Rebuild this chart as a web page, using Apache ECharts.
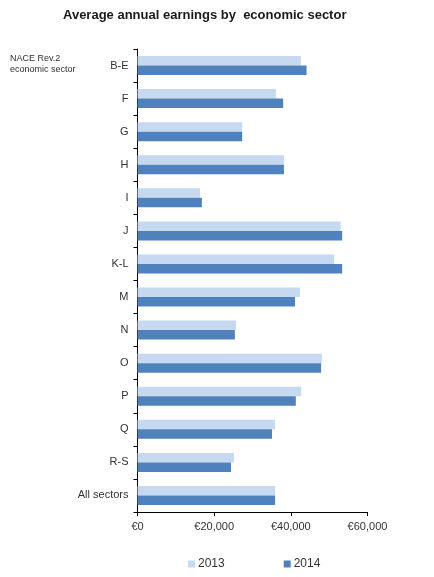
<!DOCTYPE html>
<html>
<head>
<meta charset="utf-8">
<script src="https://cdn.jsdelivr.net/npm/echarts@6/dist/echarts.min.js"></script>
<style>
  html, body { margin: 0; padding: 0; background: #fff; }
  #chart { width: 434px; height: 577px; }
</style>
</head>
<body>
<div id="chart"></div>
<script>
// sectors, top to bottom
const sectors = ['B-E', 'F', 'G', 'H', 'I', 'J', 'K-L', 'M', 'N', 'O', 'P', 'Q', 'R-S', 'All sectors'];
// average annual earnings (EUR)
const earnings2013 = [42600, 36100, 27300, 38200, 16300, 53000, 51300, 42400, 25700, 48100, 42700, 35900, 25200, 35900];
const earnings2014 = [44100, 38000, 27300, 38200, 16800, 53400, 53400, 41100, 25400, 47900, 41300, 35100, 24400, 35900];
const xTicks = [0, 20000, 40000, 60000];

const chart = echarts.init(document.getElementById('chart'));
const font = 'Liberation Sans, Arial, sans-serif';

function euro(v) {
    return '€' + v.toLocaleString('en-US');
}

chart.setOption({
    animation: false,
    textStyle: { fontFamily: font },
    title: [
        {
            text: 'Average annual earnings by  economic sector',
            left: 63,
            top: 9,
            padding: 0,
            textStyle: { fontSize: 13, fontWeight: 'bold', color: '#1a1a1a', fontFamily: font }
        },
        {
            text: 'NACE Rev.2\neconomic sector',
            left: 10,
            top: 53,
            padding: 0,
            textStyle: { fontSize: 9, fontWeight: 'normal', color: '#333', lineHeight: 11, fontFamily: font }
        }
    ],
    legend: {
        top: 558,
        left: 188,
        padding: 0,
        itemWidth: 7,
        itemHeight: 7,
        itemGap: 59,
        icon: 'rect',
        textStyle: { fontSize: 12, color: '#333', fontFamily: font, padding: [0, 0, 0, -2] },
        data: ['2013', '2014']
    },
    grid: { left: 137.5, right: 66.5, top: 49, bottom: 65 },
    xAxis: {
        type: 'value',
        min: xTicks[0],
        max: xTicks[xTicks.length - 1],
        interval: 20000,
        axisLine: { show: true, lineStyle: { color: '#000', width: 1 } },
        axisTick: { show: true, length: 4, lineStyle: { color: '#000' } },
        splitLine: { show: false },
        axisLabel: { fontSize: 11, color: '#333', margin: 9, formatter: euro }
    },
    yAxis: {
        type: 'category',
        inverse: true,
        data: sectors,
        axisLine: { show: true, lineStyle: { color: '#000', width: 1 } },
        axisTick: { show: true, length: 4, alignWithLabel: false, lineStyle: { color: '#000' } },
        axisLabel: { fontSize: 11, color: '#333', margin: 9 }
    },
    series: [
        {
            name: '2013',
            type: 'bar',
            data: earnings2013,
            barWidth: 9.5,
            barGap: '0%',
            itemStyle: { color: '#C6D9F1' }
        },
        {
            name: '2014',
            type: 'bar',
            data: earnings2014,
            barWidth: 9.5,
            itemStyle: { color: '#4F81BD' }
        }
    ]
});
</script>
</body>
</html>
